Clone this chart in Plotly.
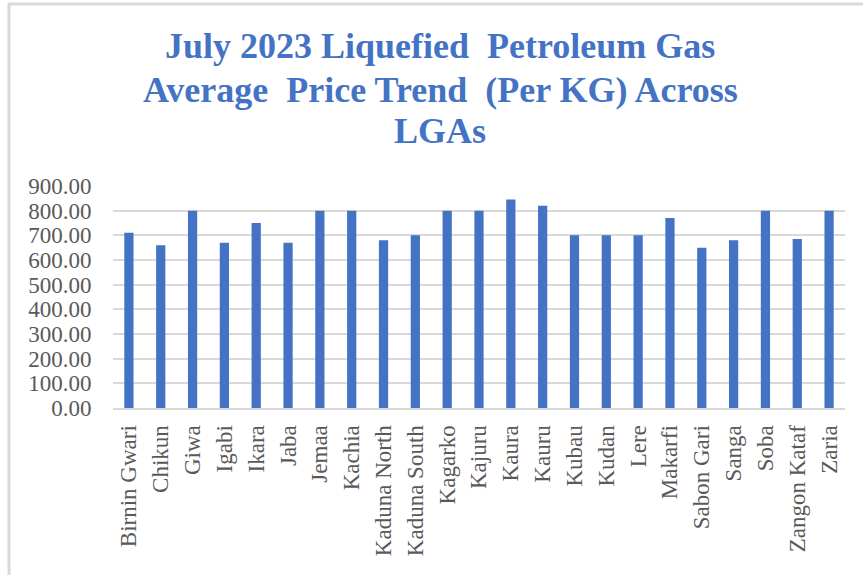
import plotly.graph_objects as go

lgas = ["Birnin Gwari", "Chikun", "Giwa", "Igabi", "Ikara", "Jaba", "Jemaa", "Kachia",
        "Kaduna North", "Kaduna South", "Kagarko", "Kajuru", "Kaura", "Kauru", "Kubau",
        "Kudan", "Lere", "Makarfi", "Sabon Gari", "Sanga", "Soba", "Zangon Kataf", "Zaria"]
prices = [710, 660, 800, 670, 750, 670, 800, 800, 680, 700, 800, 800, 845, 820, 700,
          700, 700, 770, 650, 680, 800, 685, 800]
y_ticks = [0, 100, 200, 300, 400, 500, 600, 700, 800, 900]
title_lines = ["July 2023 Liquefied\u00a0 Petroleum Gas",
               "Average\u00a0 Price Trend\u00a0 (Per KG) Across",
               "LGAs"]

W, H = 863, 575
L, R, T, B = 113, 18, 186, 167
pw, ph = W - L - R, H - T - B

fig = go.Figure(go.Bar(x=lgas, y=prices, marker=dict(color="#4472C4", line=dict(width=0)),
                       width=0.29))

def px_x(p):
    return (p - L) / pw

def px_y(p):
    return (H - B - p) / ph

blue = "#4472C4"
ann = []
for line, yc in zip(title_lines, [46, 90, 131]):
    ann.append(dict(text="<b>" + line + "</b>", x=px_x(440), xref="paper", xanchor="center",
                    y=px_y(yc), yref="paper", yanchor="middle", showarrow=False,
                    font=dict(family="Liberation Serif", size=36, color=blue)))

fig.update_layout(
    width=W, height=H,
    margin=dict(l=L, r=R, t=T, b=B, pad=0),
    paper_bgcolor="white", plot_bgcolor="white",
    showlegend=False,
    annotations=ann,
    bargap=0.71,
    xaxis=dict(
        tickangle=-90, tickfont=dict(family="Liberation Serif", size=23, color="#595959"),
        showgrid=False, showline=True, linecolor="#d9d9d9", linewidth=2,
        ticks="outside", ticklen=6, tickcolor="rgba(0,0,0,0)",
        range=[-0.5, len(lgas) - 0.5],
    ),
    yaxis=dict(
        range=[0, 900], tickvals=y_ticks, ticktext=[f"{v:.2f}" for v in y_ticks],
        tickfont=dict(family="Liberation Serif", size=23, color="#595959"),
        showgrid=True, gridcolor="#d9d9d9", gridwidth=2, zeroline=False,
        showline=False, ticks="outside", ticklen=16, tickcolor="rgba(0,0,0,0)",
    ),
    shapes=[
        dict(type="line", xref="paper", yref="paper", x0=px_x(8), x1=px_x(W + 5),
             y0=px_y(4), y1=px_y(4), line=dict(color="#d9d9d9", width=3)),
        dict(type="line", xref="paper", yref="paper", x0=px_x(9), x1=px_x(9),
             y0=px_y(3), y1=px_y(H + 5), line=dict(color="#d9d9d9", width=3)),
    ],
)

fig.write_html("out.html", config={"displayModeBar": False},
               post_script="document.body.style.margin='0';document.body.style.overflow='hidden';")
